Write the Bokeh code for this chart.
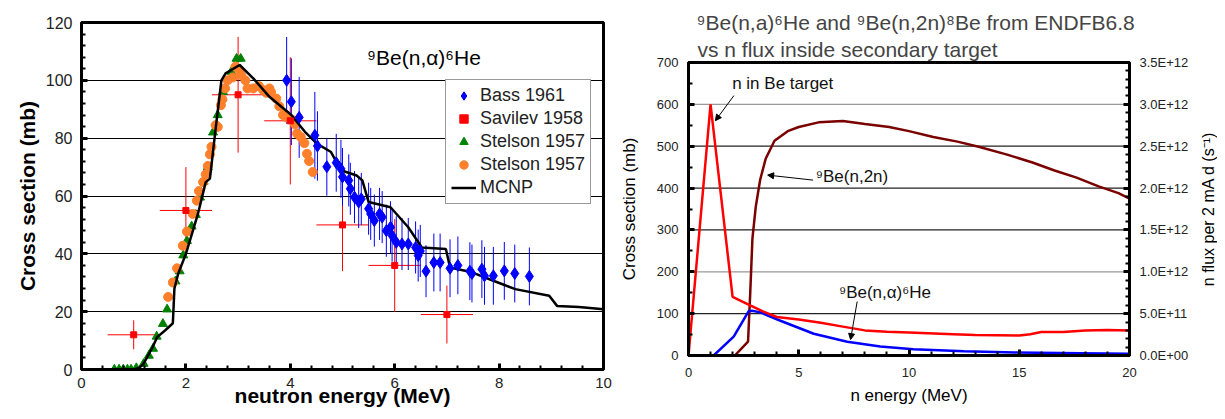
import math
from jinja2 import Template
from bokeh.plotting import figure
from bokeh.models import (Range1d, LinearAxis, SingleIntervalTicker, Legend, LegendItem,
                          Label, Arrow, NormalHead, Title, Span, CustomJSTickFormatter)
from bokeh.embed import file_html
from bokeh.resources import INLINE

FONT = "Liberation Sans"

# ---------------- Left chart data: 9Be(n,alpha)6He ----------------
mcnp_e = [1.0, 1.1, 1.19, 1.36, 1.45, 1.6, 1.75, 1.78, 1.85, 2.0, 2.15, 2.23, 2.38, 2.46, 2.57,
          2.68, 2.76, 3.03, 3.29, 3.6, 4.02, 4.28, 4.51, 4.78, 4.97, 5.27, 5.38, 5.5, 5.92,
          6.26, 6.52, 6.98, 7.06, 7.48, 7.89, 8.31, 8.96, 9.11, 9.53, 10.0]
mcnp_s = [0.0, 0.5, 2.0, 7.7, 11.2, 13.5, 16.0, 28.0, 33.0, 40.0, 49.0, 53.8, 64.8, 66.0, 83.3,
          100.0, 102.4, 105.3, 100.7, 94.3, 88.0, 82.2, 78.1, 75.2, 68.9, 67.1, 65.4, 57.9, 56.1,
          49.2, 42.2, 41.7, 35.3, 33.6, 30.7, 27.8, 25.5, 22.0, 21.6, 20.8]

bass_e = [3.93, 4.02, 4.17, 4.47, 4.52, 4.7, 4.88, 4.97, 5.0, 5.12, 5.15, 5.23, 5.31, 5.36,
          5.5, 5.54, 5.61, 5.71, 5.76, 5.84, 5.92, 5.95, 6.03, 6.14, 6.26, 6.4, 6.45, 6.49,
          6.6, 6.75, 6.87, 7.06, 7.21, 7.44, 7.48, 7.67, 7.72, 7.89, 8.1, 8.3, 8.58]
bass_s = [100.0, 92.6, 87.2, 81.0, 77.3, 70.1, 71.5, 69.4, 66.6, 65.4, 62.5, 59.6, 57.9, 59.0,
          55.6, 53.8, 51.5, 53.8, 52.7, 48.0, 49.2, 46.3, 44.0, 43.4, 43.4, 42.2, 39.4, 41.0,
          34.0, 37.0, 37.0, 35.0, 36.0, 34.0, 33.2, 34.7, 32.4, 32.4, 34.1, 33.2, 32.2]
bass_err = [15, 15, 14, 15, 12, 10, 10, 10, 10, 9, 9, 9, 9, 9,
            9, 9, 9, 9, 9, 9, 9, 9, 9, 9, 9, 9, 9, 9,
            9, 10, 10, 10, 10, 10, 10, 10, 10, 10, 10, 10, 10]

sav_e = [1.0, 2.0, 3.0, 4.0, 5.0, 6.0, 7.0]
sav_s = [12.0, 55.0, 95.0, 86.0, 50.0, 36.0, 19.0]
sav_xerr = [0.5, 0.5, 0.5, 0.5, 0.5, 0.5, 0.5]
sav_yerr = [5.0, 15.0, 20.0, 22.0, 16.0, 16.0, 10.0]

stel_tri_e = [0.63, 0.72, 0.8, 0.88, 0.95, 1.05, 1.19, 1.29, 1.37, 1.44, 1.56, 1.64, 1.8,
              1.88, 1.95, 2.02, 2.11, 2.19, 2.27, 2.34, 2.42, 2.52, 2.61, 2.71, 2.87, 2.97, 3.05]
stel_tri_s = [0.0, 0.0, 0.0, 0.0, 0.0, 0.5, 2.0, 4.8, 7.2, 11.4, 15.8, 20.8, 30.5,
              34.0, 39.5, 44.5, 49.5, 53.5, 59.5, 65.0, 70.0, 82.0, 88.0, 96.0, 103.0, 107.5, 107.5]

stel_cir_e = [1.66, 1.75, 1.83, 1.94, 2.02, 2.13, 2.21, 2.25, 2.33, 2.38, 2.42, 2.46, 2.49,
              2.57, 2.61, 2.67, 2.7, 2.75, 2.8, 2.9, 2.95, 3.03, 3.06, 3.14, 3.18, 3.29, 3.4,
              3.48, 3.54, 3.6, 3.63, 3.73, 3.79, 3.86, 3.94, 4.03, 4.09, 4.13, 4.2, 4.27,
              4.32, 4.36, 4.43]
stel_cir_s = [25.1, 30.1, 35.0, 42.8, 47.7, 53.8, 58.4, 61.7, 64.8, 67.5, 70.4, 74.4, 77.0,
              84.5, 83.9, 91.4, 93.4, 97.2, 100.0, 101.0, 104.7, 103.5, 101.8, 100.0, 97.2, 97.2, 98.0,
              96.6, 95.7, 97.2, 96.0, 93.7, 91.0, 88.0, 87.1, 86.4, 84.8, 81.6, 80.4, 78.3,
              74.6, 72.1, 68.3]

legend_labels = ["Bass 1961", "Savilev 1958", "Stelson 1957", "Stelson 1957", "MCNP"]

# ---------------- Right chart data: ENDF/B-VI.8 ----------------
na_e = [0.6, 1.14, 2.05, 2.73, 2.88, 3.26, 4.17, 5.68, 7.2, 8.7, 10.2, 12.5, 14.8, 17.8, 20.0]
na_s = [0.0, 0.0, 45.0, 106.0, 107.0, 103.0, 83.0, 52.0, 33.0, 21.5, 15.0, 10.3, 7.2, 5.6, 4.0]

n2n_e = [1.75, 2.1, 2.7, 2.8, 2.9, 3.05, 3.25, 3.5, 3.9, 4.5, 5.0, 5.9, 7.0, 8.0, 9.1, 10.0,
         11.1, 12.2, 13.2, 14.45, 15.6, 16.6, 17.6, 18.6, 19.5, 20.0]
n2n_s = [0.0, 0.0, 33.0, 150.0, 280.0, 355.0, 420.0, 470.0, 513.0, 536.0, 546.0, 557.0, 560.0,
         553.0, 546.0, 536.0, 522.0, 511.0, 498.0, 480.0, 461.0, 442.0, 425.0, 404.0, 388.0, 375.0]

flux_e = [0.0, 1.0, 2.0, 2.7, 3.3, 4.0, 5.0, 6.0, 7.0, 8.0, 9.0, 10.0, 12.0, 13.0, 15.0,
          15.5, 16.0, 17.0, 18.0, 19.0, 20.0]
flux_v = [0.0, 3.0e12, 7.0e11, 6.1e11, 5.35e11, 4.6e11, 4.3e11, 3.9e11, 3.45e11, 3.0e11,
          2.85e11, 2.75e11, 2.55e11, 2.45e11, 2.4e11, 2.55e11, 2.8e11, 2.8e11, 3.0e11, 3.05e11, 3.0e11]

grid_levels = [100, 200, 300, 400, 500, 600]
grid_colors = ["#222222", "#999999", "#222222", "#222222", "#222222", "#999999"]

TICK_COLOR = "#222222"


def style_axis(ax, tick_size, label_size, bold, label_standoff, tick_standoff):
    ax.axis_line_color = "black"
    ax.axis_line_width = 3
    ax.major_tick_in = 6
    ax.major_tick_out = 0
    ax.major_tick_line_width = 3
    ax.minor_tick_in = 4
    ax.minor_tick_out = 0
    ax.minor_tick_line_width = 2
    ax.major_label_text_font = FONT
    ax.major_label_text_font_size = tick_size
    ax.major_label_text_color = TICK_COLOR
    ax.major_label_standoff = tick_standoff
    ax.axis_label_text_font = FONT
    ax.axis_label_text_font_size = label_size
    ax.axis_label_text_font_style = "bold" if bold else "normal"
    ax.axis_label_text_color = "black"
    ax.axis_label_standoff = label_standoff


# ================= Left figure =================
p1 = figure(width=607, height=403, x_range=Range1d(0, 10), y_range=Range1d(0, 120),
            output_backend="svg", toolbar_location=None, title=None,
            min_border_left=73, min_border_right=12, min_border_top=14, min_border_bottom=42)
p1.xaxis.ticker = SingleIntervalTicker(interval=2, num_minor_ticks=5)
p1.yaxis.ticker = SingleIntervalTicker(interval=20, num_minor_ticks=5)
p1.xgrid.visible = False
p1.ygrid.grid_line_color = "black"
p1.ygrid.grid_line_width = 1
p1.outline_line_color = "black"
p1.outline_line_width = 3
style_axis(p1.xaxis[0], "15px", "21px", True, -7, 8)
style_axis(p1.yaxis[0], "16px", "21px", True, 4, 9)
p1.xaxis.axis_label = "neutron energy (MeV)"
p1.yaxis.axis_label = "Cross section (mb)"

# Savilev error bars
p1.segment(x0=[e - d for e, d in zip(sav_e, sav_xerr)], y0=sav_s,
           x1=[e + d for e, d in zip(sav_e, sav_xerr)], y1=sav_s, line_color="red", line_width=1)
p1.segment(x0=sav_e, y0=[s - d for s, d in zip(sav_s, sav_yerr)],
           x1=sav_e, y1=[s + d for s, d in zip(sav_s, sav_yerr)], line_color="red", line_width=1)
# Bass error bars
p1.segment(x0=bass_e, y0=[s - d for s, d in zip(bass_s, bass_err)],
           x1=bass_e, y1=[s + d for s, d in zip(bass_s, bass_err)], line_color="#0000FF", line_width=1)

r_tri = p1.scatter(stel_tri_e, stel_tri_s, marker="triangle", size=9, fill_color="#008000",
                   line_color="#008000")
r_cir = p1.scatter(stel_cir_e, stel_cir_s, marker="circle", size=9, fill_color="#FF7F2A",
                   line_color="#FF7F2A")
r_mcnp = p1.line(mcnp_e, mcnp_s, line_color="black", line_width=2.5)
r_bass = p1.scatter(bass_e, bass_s, marker="diamond", size=12, fill_color="#0000FF",
                    line_color="#0000FF")
r_sav = p1.scatter(sav_e, sav_s, marker="square", size=6, fill_color="red", line_color="red")

legend = Legend(items=[LegendItem(label=legend_labels[0], renderers=[r_bass]),
                       LegendItem(label=legend_labels[1], renderers=[r_sav]),
                       LegendItem(label=legend_labels[2], renderers=[r_tri]),
                       LegendItem(label=legend_labels[3], renderers=[r_cir]),
                       LegendItem(label=legend_labels[4], renderers=[r_mcnp])],
                location=(364, 165), padding=5, spacing=2, margin=0,
                label_height=21, glyph_height=21, glyph_width=25, label_standoff=4,
                label_text_font=FONT, label_text_font_size="18px", label_text_color="#222222",
                border_line_color="#333333", border_line_width=1.5,
                background_fill_color="white", background_fill_alpha=1.0)
p1.add_layout(legend)

p1.add_layout(Label(x=6.56, y=108, text="⁹Be(n,α)⁶He", text_align="center",
                    text_baseline="middle", text_font=FONT, text_font_size="21px",
                    text_color="black"))

# ================= Right figure =================
P2_W = 576
p2 = figure(width=P2_W, height=403, x_range=Range1d(0, 20), y_range=Range1d(0, 700),
            output_backend="svg", toolbar_location=None, title=None,
            min_border_left=73, min_border_right=62, min_border_top=54, min_border_bottom=56)
p2.extra_y_ranges = {"flux": Range1d(0, 3.5e12)}
p2.xaxis.ticker = SingleIntervalTicker(interval=5, num_minor_ticks=5)
p2.yaxis.ticker = SingleIntervalTicker(interval=100, num_minor_ticks=2)
p2.xgrid.visible = False
p2.ygrid.visible = False
p2.outline_line_color = "black"
p2.outline_line_width = 3
style_axis(p2.xaxis[0], "13px", "17px", False, 6, 12)
style_axis(p2.yaxis[0], "13px", "17px", False, 15, 10)
p2.xaxis.axis_label = "n energy (MeV)"
p2.yaxis.axis_label = "Cross section (mb)"

fmt = CustomJSTickFormatter(code="""
const s = tick.toExponential(1).toUpperCase();
const i = s.indexOf('E');
const m = s.slice(0, i);
const e = s.slice(i + 1);
const sign = e[0];
let d = e.slice(1);
if (d.length < 2) { d = '0' + d; }
return m + 'E' + sign + d;
""")
ax_r = LinearAxis(y_range_name="flux", ticker=SingleIntervalTicker(interval=5e11, num_minor_ticks=5),
                  formatter=fmt)
style_axis(ax_r, "13px", "16px", False, 3, 10)
p2.add_layout(ax_r, "right")

for lvl, col in zip(grid_levels, grid_colors):
    p2.add_layout(Span(location=lvl, dimension="width", line_color=col, line_width=1.2,
                       level="underlay"))

p2.line(n2n_e, n2n_s, line_color="#7A0000", line_width=2.5)
p2.line(na_e, na_s, line_color="#0000FF", line_width=2.5)
p2.line(flux_e, flux_v, y_range_name="flux", line_color="#FF0000", line_width=2.5)

t2 = Title(text="vs n flux inside secondary target", align="left", offset=9,
           text_font=FONT, text_font_size="21px", text_font_style="normal", standoff=3)
p2.add_layout(t2, "above")
t1 = Title(text="⁹Be(n,a)⁶He and ⁹Be(n,2n)⁸Be from ENDFB6.8", align="left", offset=8,
           text_font=FONT, text_font_size="21px", text_font_style="normal", standoff=1)
p2.add_layout(t1, "above")

ann_text = ["n in Be target", "⁹Be(n,2n)", "⁹Be(n,α)⁶He"]
ann_x = [1.98, 5.77, 6.82]
ann_y = [649, 427, 151]
arr_x0 = [2.06, 5.65, 7.65]
arr_y0 = [621, 419, 129]
arr_x1 = [1.22, 3.59, 7.35]
arr_y1 = [561, 431, 38]
for t, x, y in zip(ann_text, ann_x, ann_y):
    p2.add_layout(Label(x=x, y=y, text=t, text_align="left", text_baseline="middle",
                        text_font=FONT, text_font_size="17px", text_color="#111111"))
for xa, ya, xb, yb in zip(arr_x0, arr_y0, arr_x1, arr_y1):
    p2.add_layout(Arrow(end=NormalHead(size=6, fill_color="black", line_color="black"),
                        x_start=xa, y_start=ya, x_end=xb, y_end=yb,
                        line_color="black", line_width=1))

# ================= Narrow strip carrying the right-hand axis title =================
P3_W = 26
p3 = figure(width=P3_W, height=403, x_range=Range1d(0, 1), y_range=Range1d(0, 1),
            x_axis_type=None, y_axis_type=None, output_backend="svg", toolbar_location=None,
            title=None, min_border=0, min_border_left=P3_W - 1, min_border_right=0,
            min_border_top=54, min_border_bottom=56)
p3.outline_line_color = None
p3.grid.visible = False
p3.add_layout(Title(text="n flux per 2 mA d (s⁻¹)", align="center", offset=8, standoff=0,
                    text_font=FONT, text_font_size="16px", text_font_style="normal",
                    text_color="black"), "left")

WIDTHS = [607, P2_W, P3_W]

# Independent roots placed side by side (so their frames are not forced to align)
PAGE = Template("""<!DOCTYPE html>
<html lang="en">
<head>
<meta charset="utf-8">
<title>{{ title }}</title>
{{ bokeh_css }}
{{ bokeh_js }}
</head>
<body>
{% from macros import embed %}
<div style="display: flex; flex-direction: row; align-items: flex-start;">
{% for root in roots %}<div style="width: {{ widths[loop.index0] }}px; height: 403px; flex: none;">{{ embed(root) }}</div>{% endfor %}
</div>
{{ plot_script }}
</body>
</html>
""")

open("out.html", "w").write(file_html([p1, p2, p3], INLINE, template=PAGE,
                                      template_variables={"widths": WIDTHS}))
